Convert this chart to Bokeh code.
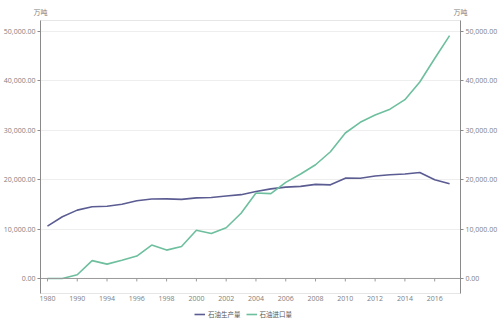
from bokeh.plotting import figure
from bokeh.layouts import column
from bokeh.models import (Range1d, LinearAxis, FixedTicker, NumeralTickFormatter,
                          Span, Legend, LegendItem)
from bokeh.embed import file_html
from bokeh.resources import INLINE

# ---- data (万吨) ----
years = ["1980", "1985", "1990", "1993", "1994", "1995", "1996", "1997", "1998", "1999",
         "2000", "2001", "2002", "2003", "2004", "2005", "2006", "2007", "2008", "2009",
         "2010", "2011", "2012", "2013", "2014", "2015", "2016", "2017"]
production = [10595, 12490, 13831, 14524, 14608, 15005, 15733, 16074, 16100, 16000,
              16300, 16396, 16700, 16960, 17587, 18135, 18477, 18632, 19044, 18949,
              20301, 20288, 20748, 20992, 21143, 21456, 19969, 19151]
imports = [0, 0, 755, 3615, 2903, 3673, 4537, 6768, 5739, 6483,
           9749, 9118, 10269, 13190, 17291, 17163, 19453, 21139, 23016, 25642,
           29437, 31594, 33089, 34265, 36180, 39749, 44503, 49141]
y_ticks = [0, 10000, 20000, 30000, 40000, 50000]
unit = "万吨"
series_names = ["石油生产量", "石油进口量"]
colors = ["#5b5c92", "#6dbf9e"]

FONT = "Open Sans"
CJK = "Noto Sans CJK SC"
GREY = "#808080"

x = list(range(len(years)))
x_start, x_end = -0.467, len(years) - 1 + 0.733

p = figure(width=500, height=305, output_backend="svg", toolbar_location=None,
           x_range=Range1d(x_start, x_end),
           y_range=Range1d(-3040, 52200),
           min_border_left=38, min_border_right=39, min_border_top=20, min_border_bottom=12)
p.outline_line_color = "#e6e6e6"
p.background_fill_color = "white"
p.border_fill_color = "white"

# x axis (labels only; the zero line is drawn as a span)
xa = p.xaxis[0]
xa.ticker = FixedTicker(ticks=x[::2])
xa.major_label_overrides = {i: years[i] for i in x[::2]}
xa.axis_line_color = None
xa.major_tick_line_color = None
xa.major_tick_in = 0
xa.major_tick_out = 0
xa.minor_tick_line_color = None
xa.minor_tick_out = 0
xa.major_label_standoff = 2
xa.major_label_text_font = FONT
xa.major_label_text_font_size = "7px"
xa.major_label_text_color = GREY


def style_y(ax):
    ax.ticker = FixedTicker(ticks=y_ticks)
    ax.formatter = NumeralTickFormatter(format="0,0.00")
    ax.axis_line_color = "#8a8a8a"
    ax.major_tick_line_color = "#8a8a8a"
    ax.major_tick_in = 0
    ax.major_tick_out = 3
    ax.minor_tick_line_color = None
    ax.minor_tick_out = 0
    ax.major_label_standoff = 2
    ax.major_label_text_font = FONT
    ax.major_label_text_font_size = "7px"
    ax.major_label_text_color = GREY


style_y(p.yaxis[0])
ra = LinearAxis()
style_y(ra)
p.add_layout(ra, "right")

# unit labels above both y axes (an "above" axis with two ticks at the frame edges)
ua = LinearAxis(ticker=FixedTicker(ticks=[x_start, x_end]),
                major_label_overrides={x_start: unit, x_end: unit})
ua.axis_line_color = None
ua.major_tick_line_color = None
ua.major_tick_in = 0
ua.major_tick_out = 0
ua.minor_tick_line_color = None
ua.minor_tick_out = 0
ua.major_label_standoff = 4
ua.major_label_text_font = CJK
ua.major_label_text_font_size = "7px"
ua.major_label_text_color = GREY
p.add_layout(ua, "above")

p.xgrid.grid_line_color = None
p.ygrid.ticker = FixedTicker(ticks=y_ticks)
p.ygrid.grid_line_color = "#eeeeee"

# zero line with small category ticks
p.add_layout(Span(location=0, dimension="width", line_color="#9a9a9a", line_width=1))
p.segment(x0=x[::2], x1=x[::2], y0=[0] * len(x[::2]), y1=[-600] * len(x[::2]),
          line_color="#9a9a9a", line_width=1)

p.line(x, production, line_color=colors[0], line_width=1.6)
p.line(x, imports, line_color=colors[1], line_width=1.6)

# ---- legend strip below the chart ----
lg = figure(width=500, height=22, output_backend="svg", toolbar_location=None,
            x_range=Range1d(0, 1), y_range=Range1d(0, 1), min_border=0,
            x_axis_type=None, y_axis_type=None)
lg.outline_line_color = None
lg.grid.grid_line_color = None
lg.border_fill_color = "white"
# renderers only used for the legend swatches (their points lie outside the visible range)
l1 = lg.line([5, 6], [5, 5], line_color=colors[0], line_width=1.6)
l2 = lg.line([5, 6], [5, 5], line_color=colors[1], line_width=1.6)
legend = Legend(items=[LegendItem(label=series_names[0], renderers=[l1]),
                       LegendItem(label=series_names[1], renderers=[l2])],
                location=(154, 8), orientation="horizontal")
legend.label_text_font = CJK
legend.label_text_font_size = "6.5px"
legend.label_text_color = "#555555"
legend.glyph_width = 11
legend.glyph_height = 10
legend.label_standoff = 3
legend.spacing = 5
legend.padding = 0
legend.margin = 0
legend.border_line_color = None
legend.background_fill_alpha = 0
lg.add_layout(legend)

layout = column(p, lg, spacing=0)
open("out.html", "w").write(file_html(layout, INLINE))
